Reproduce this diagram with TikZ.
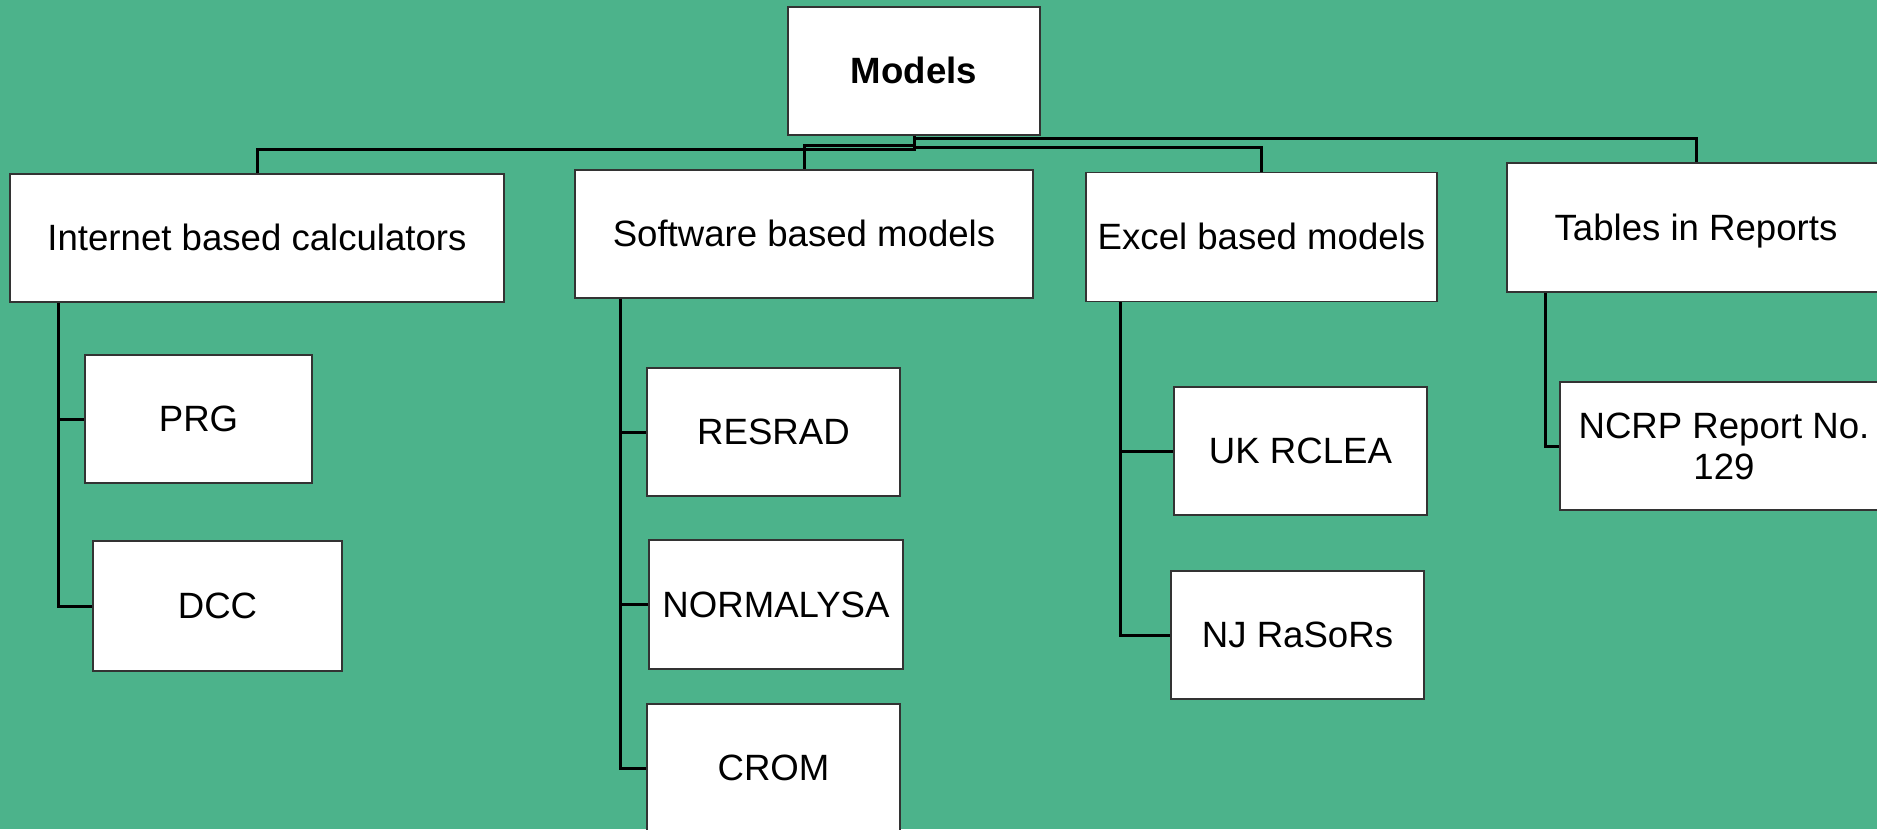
\documentclass[tikz,border=0pt]{standalone}
\usepackage{fontspec}
\setmainfont{Liberation Sans}
\definecolor{bggreen}{RGB}{76,179,139}
\tikzset{
  box/.style={draw=black!80, line width=0.9pt, fill=white, inner sep=0pt, align=center,
    text height=17.7pt, text depth=4.8pt, font=\fontsize{18.3}{20.5}\selectfont},
  link/.style={line width=1.5pt, black},
}
\begin{document}
\begin{tikzpicture}[x=0.5pt, y=-0.5pt]
% Background
\fill[bggreen] (0,0) rectangle (1877,829);
\useasboundingbox (0,0) rectangle (1877,829);

% Root
\node[box, minimum width=126pt, minimum height=64pt] (models) at (914,71) {\textbf{Models}};

% Categories
\node[box, minimum width=247pt, minimum height=64pt] (inet) at (257,238) {Internet based calculators};
\node[box, minimum width=229pt, minimum height=64pt] (soft) at (804,234) {Software based models};
\node[box, minimum width=175.5pt, minimum height=64.5pt] (excel) at (1261.5,237) {Excel based models};
\node[box, minimum width=189pt, minimum height=64.5pt] (tables) at (1696,227.5) {Tables in Reports};

% Internet based calculators
\node[box, minimum width=113.5pt, minimum height=64pt] (prg) at (198.5,419) {PRG};
\node[box, minimum width=124.5pt, minimum height=65pt] (dcc) at (217.5,606) {DCC};

% Software based models
\node[box, minimum width=126.5pt, minimum height=64pt] (resrad) at (773.5,432) {RESRAD};
\node[box, minimum width=127pt, minimum height=64.5pt] (normalysa) at (776,604.5) {NORMALYSA};
\node[box, minimum width=126.5pt, minimum height=64pt] (crom) at (773.5,768) {CROM};

% Excel based models
\node[box, minimum width=126.5pt, minimum height=64pt] (ukrclea) at (1300.5,451) {UK RCLEA};
\node[box, minimum width=126.5pt, minimum height=64pt] (njrasors) at (1297.5,635) {NJ RaSoRs};

% Tables in Reports
\node[box, minimum width=164pt, minimum height=64pt, text height=38.2pt] (ncrp) at (1724,446) {NCRP Report No.\\129};

% Root to categories
\draw[link] (models.south) -- ++(0,3) -| (tables.north);
\draw[link] (models.south) -- ++(0,10) -| (soft.north);
\draw[link] (models.south) -- ++(0,12) -| (excel.north);
\draw[link] (models.south) -- ++(0,14) -| (inet.north);

% Categories to items
\draw[link] (inet.south west) ++(49,0) |- (prg.west);
\draw[link] (inet.south west) ++(49,0) |- (dcc.west);
\draw[link] (soft.south west) ++(46,0) |- (resrad.west);
\draw[link] (soft.south west) ++(46,0) |- (normalysa.west);
\draw[link] (soft.south west) ++(46,0) |- (crom.west);
\draw[link] (excel.south west) ++(35,0) |- (ukrclea.west);
\draw[link] (excel.south west) ++(35,0) |- (njrasors.west);
\draw[link] (tables.south west) ++(39,0) |- (ncrp.west);
\end{tikzpicture}
\end{document}
